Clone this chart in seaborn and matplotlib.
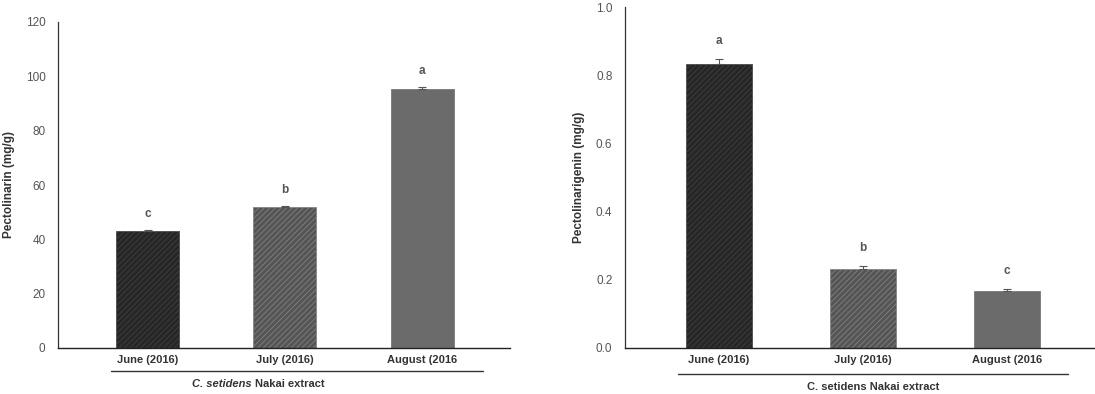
import numpy as np
import pandas as pd
import matplotlib
matplotlib.use("Agg")
import matplotlib.pyplot as plt
import matplotlib.transforms as mtransforms
import seaborn as sns

# 数据
months = ["June (2016)", "July (2016)", "August (2016"]
pectolinarin = [43.0, 52.0, 95.5]
pectolinarin_err = [0.5, 0.4, 0.6]
pectolinarin_sig = ["c", "b", "a"]
pectolinarigenin = [0.832, 0.232, 0.168]
pectolinarigenin_err = [0.015, 0.008, 0.005]
pectolinarigenin_sig = ["a", "b", "c"]

bar_colors = ["#262626", "#555555", "#6b6b6b"]
hatch_colors = ["#404040", "#808080", "#6b6b6b"]
hatches = ["//////", "//////", ""]

sns.set_style("white")
plt.rcParams["font.family"] = ["Liberation Sans", "DejaVu Sans"]
plt.rcParams["hatch.linewidth"] = 0.6

fig = plt.figure(figsize=(10.95, 3.94), dpi=100)
ax1 = fig.add_axes([58 / 1095, 46 / 394, 452 / 1095, 326 / 394])
ax2 = fig.add_axes([625 / 1095, 46 / 394, 470 / 1095, 341 / 394])


def draw_panel(ax, values, errs, sig, ylabel, ylim, yticks, ytick_fmt, xlim,
               sig_off, line_y, line_x, group_italic):
    df = pd.DataFrame({"month": months, "value": values})
    sns.barplot(data=df, x="month", y="value", hue="month", palette=bar_colors,
                legend=False, width=0.46, ax=ax, errorbar=None)
    for bar, hc, h in zip(ax.patches, hatch_colors, hatches):
        bar.set_hatch(h)
        bar.set_edgecolor(hc)
        bar.set_linewidth(0.5)
    ax.errorbar(range(len(values)), values, yerr=[np.zeros(len(errs)), errs],
                fmt="none", ecolor="#555555", elinewidth=0.8, capsize=3, capthick=0.8)
    for i, (v, e, s) in enumerate(zip(values, errs, sig)):
        ax.text(i, v + e + sig_off, s, ha="center", va="bottom", fontsize=8.5,
                fontweight="bold", color="#555555")

    ax.set_xlim(*xlim)
    ax.set_ylim(*ylim)
    ax.set_yticks(yticks)
    ax.set_yticklabels([ytick_fmt.format(t) for t in yticks])
    ax.tick_params(axis="y", length=3, width=0.8, colors="#555555", labelsize=8.5, pad=6)
    ax.tick_params(axis="x", length=0, labelsize=8, pad=5, labelcolor="#333333")
    for lab in ax.get_xticklabels():
        lab.set_fontweight("bold")
    ax.set_xlabel("")
    ax.set_ylabel(ylabel, fontsize=8.5, fontweight="bold", color="#333333", labelpad=8)

    for side in ["top", "right"]:
        ax.spines[side].set_visible(False)
    ax.spines["left"].set_color("#333333")
    ax.spines["bottom"].set_color("#222222")
    ax.spines["left"].set_linewidth(0.9)
    ax.spines["bottom"].set_linewidth(1.0)

    # 分组下划线和标签
    trans = mtransforms.blended_transform_factory(ax.transData, fig.transFigure)
    ax.plot(line_x, [line_y, line_y], color="#333333", lw=1.0, transform=trans,
            clip_on=False)
    cx = (line_x[0] + line_x[1]) / 2
    ty = line_y - 13 / 394
    if group_italic:
        ax.text(cx - 0.33, ty, "C. setidens", transform=trans, ha="right",
                va="center", fontsize=8, style="italic", fontweight="bold",
                color="#333333")
        ax.text(cx - 0.30, ty, "Nakai extract", transform=trans, ha="left",
                va="center", fontsize=8, fontweight="bold", color="#333333")
    else:
        ax.text(cx, ty, "C. setidens Nakai extract", transform=trans, ha="center",
                va="center", fontsize=8, fontweight="bold", color="#333333")


draw_panel(ax1, pectolinarin, pectolinarin_err, pectolinarin_sig,
           "Pectolinarin (mg/g)", (0, 120), np.arange(0, 121, 20), "{:.0f}",
           (-0.653, 2.64), 3.5, 1 - 371 / 394, [-0.27, 2.44], True)
draw_panel(ax2, pectolinarigenin, pectolinarigenin_err, pectolinarigenin_sig,
           "Pectolinarigenin (mg/g)", (0, 1.0), np.arange(0, 1.01, 0.2), "{:.1f}",
           (-0.65, 2.61), 0.035, 1 - 374 / 394, [-0.28, 2.42], False)

fig.savefig("out.png", dpi=100)
